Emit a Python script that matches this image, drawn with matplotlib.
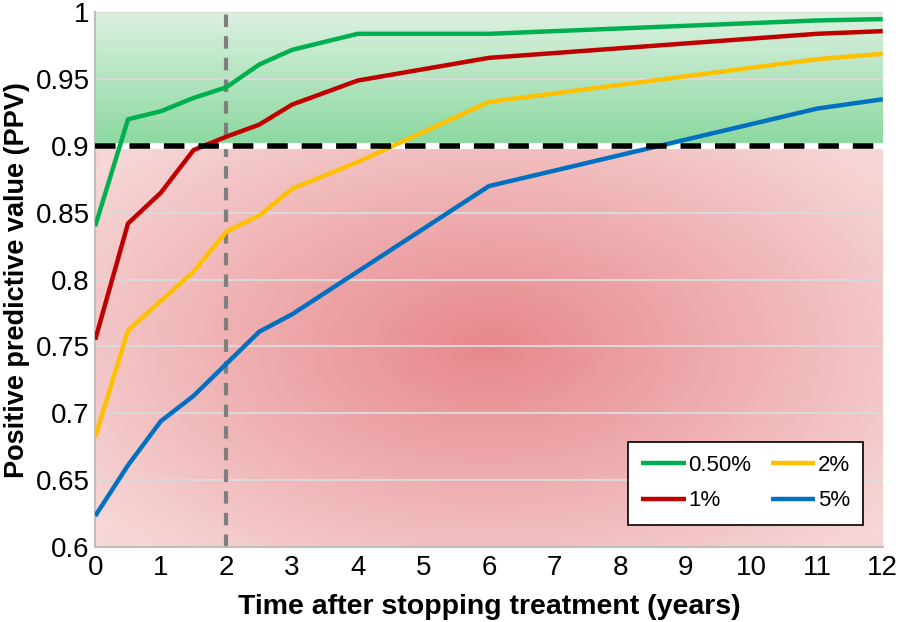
import numpy as np
import matplotlib
matplotlib.use("Agg")
import matplotlib.pyplot as plt
from matplotlib.colors import to_rgb

plt.rcParams['font.family'] = ['Liberation Sans', 'DejaVu Sans']

# data
years = [0, 0.5, 1, 1.5, 2, 2.5, 3, 4, 6, 11, 12]
ppv_05 = [0.840, 0.920, 0.926, 0.936, 0.944, 0.961, 0.972, 0.984, 0.984, 0.994, 0.995]
ppv_1 = [0.755, 0.842, 0.865, 0.897, 0.907, 0.916, 0.931, 0.949, 0.966, 0.984, 0.986]
ppv_2 = [0.682, 0.762, 0.784, 0.806, 0.836, 0.848, 0.868, 0.888, 0.933, 0.965, 0.969]
ppv_5 = [0.623, 0.661, 0.694, 0.713, 0.737, 0.761, 0.774, 0.806, 0.870, 0.928, 0.935]
labels = ['0.50%', '1%', '2%', '5%']
colors = ['#00b050', '#c00000', '#ffc000', '#0070c0']
threshold = 0.9
cutoff_year = 2

fig = plt.figure(figsize=(8.98, 6.22), dpi=100)
ax = fig.add_axes([0.106, 0.121, 0.877, 0.859])

# background: green band above threshold, red radial glow below
nx, ny = 400, 400
xs = np.linspace(0, 12, nx)
ys = np.linspace(0.6, 1.0, ny)
X, Y = np.meshgrid(xs, ys)
g_top, g_bot = np.array(to_rgb('#dcf1e0')), np.array(to_rgb('#8ad89f'))
r_mid, r_edge = np.array(to_rgb('#e8878b')), np.array(to_rgb('#f6d6d6'))
t = np.clip((Y - threshold) / (1.0 - threshold), 0, 1)[..., None]
green = g_bot + (g_top - g_bot) * t
d = np.sqrt(((X - 6.0) / 7.5) ** 2 + ((Y - 0.75) / 0.21) ** 2)
d = np.clip(d, 0, 1)[..., None]
red = r_mid + (r_edge - r_mid) * d
img = np.where((Y >= threshold)[..., None], green, red)
ax.imshow(img, extent=[0, 12, 0.6, 1.0], origin='lower', aspect='auto', zorder=0)

for yv in [0.65, 0.7, 0.75, 0.8, 0.85, 0.95, 1.0]:
    ax.axhline(yv, color='#d9d9d9', lw=1.5, zorder=1)

ax.axvline(cutoff_year, color='#7f7f7f', lw=3, ls=(0, (3, 2.2)), zorder=2)

for vals, lab, c in zip([ppv_05, ppv_1, ppv_2, ppv_5], labels, colors):
    ax.plot(years, vals, color=c, lw=3.2, label=lab, zorder=4, solid_capstyle='butt')

ax.axhline(threshold, color='white', lw=4.5, zorder=3)
ax.axhline(threshold, color='black', lw=4, ls=(0, (3.7, 2.5)), zorder=5)

ax.set_xlim(0, 12)
ax.set_ylim(0.6, 1.0)
ax.set_xticks(range(0, 13))
ax.set_yticks([0.6, 0.65, 0.7, 0.75, 0.8, 0.85, 0.9, 0.95, 1.0])
ax.set_yticklabels(['0.6', '0.65', '0.7', '0.75', '0.8', '0.85', '0.9', '0.95', '1'])
ax.tick_params(axis='x', length=0, labelsize=20, pad=6)
ax.tick_params(axis='y', length=0, labelsize=20, pad=4)
for s in ['top', 'right']:
    ax.spines[s].set_visible(False)
for s in ['left', 'bottom']:
    ax.spines[s].set_color('#bfbfbf')
    ax.spines[s].set_linewidth(1.5)

ax.set_xlabel('Time after stopping treatment (years)', fontsize=20.5, fontweight='bold', labelpad=9)
ax.set_ylabel('Positive predictive value (PPV)', fontsize=19.5, fontweight='bold', labelpad=4)

leg = ax.legend(ncol=2, loc='lower right', bbox_to_anchor=(0.975, 0.041), borderaxespad=0,
                fontsize=16, frameon=True, fancybox=False, edgecolor='black', framealpha=1,
                handlelength=2.0, handletextpad=0.1, columnspacing=0.9, borderpad=0.6,
                labelspacing=0.65)
leg.get_frame().set_linewidth(1.2)
leg.set_zorder(10)

fig.savefig('out.png', dpi=100)
